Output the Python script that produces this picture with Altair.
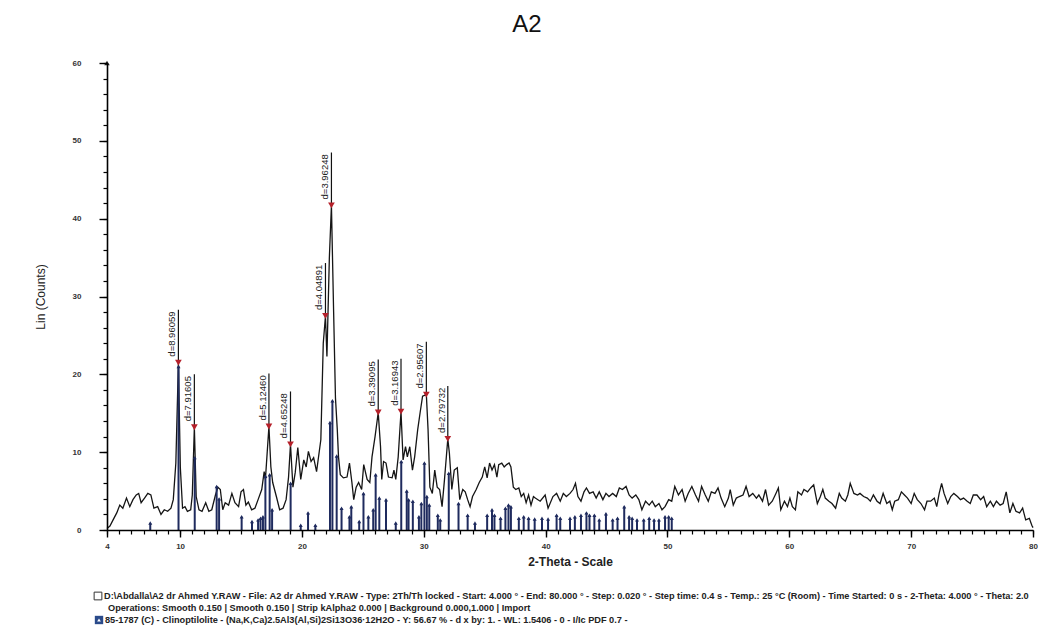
import altair as alt
import pandas as pd

# ---------------- data ----------------
two_theta = [4.0, 4.24, 4.5, 4.8, 5.05, 5.3, 5.6, 5.87, 6.13, 6.4, 6.6, 6.8, 7.08, 7.35, 7.6, 7.85,
             8.16, 8.43, 8.7, 8.98, 9.25, 9.44, 9.65, 9.86, 10.02, 10.2, 10.4, 10.6, 10.87, 11.0,
             11.17, 11.32, 11.55, 11.8, 12.1, 12.36, 12.6, 12.9, 13.1, 13.3, 13.5, 13.7, 13.98,
             14.25, 14.5, 14.8, 15.0, 15.2, 15.4, 15.6, 15.87, 16.14, 16.4, 16.7, 16.9, 17.0, 17.29,
             17.45, 17.6, 17.9, 18.17, 18.45, 18.7, 18.9, 19.06, 19.26, 19.45, 19.66, 19.9, 20.15,
             20.35, 20.53, 20.75, 20.96, 21.2, 21.55, 21.75, 21.93, 22.05, 22.25, 22.42, 22.6, 22.75,
             22.9, 23.0, 23.15, 23.4, 23.7, 23.9, 24.1, 24.25, 24.45, 24.65, 24.9, 25.07, 25.35,
             25.57, 25.75, 26.0, 26.26, 26.45, 26.55, 26.7, 26.9, 27.1, 27.4, 27.55, 27.7, 27.9,
             28.13, 28.3, 28.5, 28.65, 28.85, 29.07, 29.25, 29.5, 29.7, 29.9, 30.21, 30.35, 30.5,
             30.7, 30.9, 31.1, 31.3, 31.5, 31.7, 31.97, 32.1, 32.3, 32.5, 32.75, 32.95, 33.2, 33.4,
             33.6, 33.8, 34.0, 34.3, 34.55, 34.8, 35.0, 35.2, 35.4, 35.6, 35.8, 36.0, 36.15, 36.4,
             36.6, 36.8, 37.0, 37.15, 37.35, 37.55, 37.8, 38.0, 38.2, 38.4, 38.6, 38.8, 39.0, 39.15,
             39.55, 39.96, 40.2, 40.6, 40.9, 41.2, 41.45, 41.7, 42.0, 42.25, 42.45, 42.65, 42.9,
             43.15, 43.35, 43.6, 43.9, 44.15, 44.4, 44.7, 44.95, 45.2, 45.5, 45.8, 46.05, 46.3,
             46.6, 46.85, 47.1, 47.4, 47.65, 47.9, 48.2, 48.5, 48.75, 49.0, 49.3, 49.55, 49.8, 50.1,
             50.35, 50.6, 50.9, 51.2, 51.45, 51.7, 52.0, 52.3, 52.55, 52.8, 53.1, 53.35, 53.6, 53.9,
             54.15, 54.4, 54.7, 55.0, 55.15, 55.4, 55.65, 55.9, 56.2, 56.45, 56.7, 57.0, 57.3, 57.5,
             57.8, 58.05, 58.3, 58.6, 58.9, 59.1, 59.3, 59.6, 59.85, 60.05, 60.25, 60.5, 60.7, 61.0,
             61.2, 61.5, 61.75, 62.0, 62.3, 62.55, 62.75, 62.95, 63.25, 63.5, 63.8, 64.1, 64.3, 64.6,
             64.8, 65.0, 65.3, 65.6, 65.8, 66.1, 66.4, 66.65, 66.9, 67.2, 67.45, 67.7, 68.0, 68.25,
             68.45, 68.65, 68.95, 69.2, 69.45, 69.7, 70.0, 70.25, 70.5, 70.8, 71.1, 71.3, 71.6, 71.9,
             72.1, 72.3, 72.5, 72.7, 73.0, 73.25, 73.5, 73.8, 74.05, 74.3, 74.6, 74.85, 75.1, 75.4,
             75.7, 75.95, 76.2, 76.5, 76.75, 77.0, 77.3, 77.55, 77.8, 78.1, 78.35, 78.6, 78.9, 79.15,
             79.4, 79.7, 79.9, 80.0]
counts = [0.2, 0.5, 1.3, 2.2, 3.2, 2.8, 4.1, 3.0, 3.9, 4.5, 4.7, 3.5, 4.1, 4.7, 4.5, 2.8,
          3.0, 2.0, 2.6, 2.4, 2.8, 3.9, 8.6, 21.5, 8.0, 2.8, 3.0, 2.4, 2.6, 4.5,
          13.2, 4.3, 2.6, 2.4, 3.5, 2.4, 2.6, 4.5, 5.5, 5.2, 2.6, 3.5, 3.2,
          4.7, 3.5, 3.0, 4.9, 5.2, 3.2, 3.6, 2.6, 2.8, 3.9, 5.2, 7.5, 6.5, 13.3,
          8.1, 6.1, 4.3, 2.6, 2.8, 3.9, 6.8, 11.0, 5.5, 7.4, 10.6, 6.5, 9.0,
          8.1, 10.1, 8.8, 9.3, 7.5, 11.6, 24.0, 27.5, 22.3, 35.0, 41.7, 28.0, 17.0,
          12.9, 9.4, 7.1, 6.7, 6.8, 8.6, 6.1, 3.9, 5.5, 6.1, 5.2, 8.4, 6.5,
          6.1, 9.4, 12.0, 15.1, 10.7, 6.5, 8.8, 8.6, 6.8, 6.7, 7.7, 6.5, 9.4,
          15.2, 9.0, 10.7, 9.4, 10.7, 7.7, 9.4, 12.9, 15.1, 17.2, 17.4, 12.9, 5.5,
          4.7, 7.7, 5.5, 5.2, 3.0, 6.5, 11.7, 9.9, 5.2, 7.7, 8.0, 3.9, 5.2, 4.9,
          3.9, 3.0, 4.3, 5.2, 6.1, 6.8, 8.1, 6.7, 8.6, 7.7, 8.4, 6.8, 8.4, 8.6,
          8.1, 8.4, 8.6, 8.1, 5.5, 5.2, 5.4, 4.3, 4.7, 3.5, 4.5, 3.2, 4.3, 4.1,
          3.7, 4.5, 2.8, 4.3, 4.7, 3.7, 4.7, 4.3, 4.7, 5.2, 6.0, 4.3, 3.7,
          4.9, 5.4, 4.7, 4.9, 4.1, 4.9, 3.9, 4.7, 4.3, 4.7, 4.3, 5.4, 5.2,
          5.6, 4.5, 4.1, 4.5, 3.9, 2.6, 3.7, 3.2, 3.7, 3.0, 3.4, 2.6, 3.0, 3.9,
          3.7, 5.6, 4.5, 5.2, 3.7, 4.7, 5.6, 4.5, 3.7, 5.6, 4.5, 3.7, 4.9, 4.7,
          5.4, 4.1, 3.0, 4.1, 5.2, 3.2, 4.1, 4.3, 4.5, 5.6, 4.3, 4.7, 4.1, 4.5,
          3.7, 5.2, 3.2, 3.7, 4.7, 5.4, 2.6, 3.7, 3.0, 4.1, 3.0, 2.6, 4.9, 4.5,
          5.2, 4.9, 5.4, 5.8, 3.4, 4.3, 5.2, 4.1, 3.7, 3.4, 2.8, 4.7, 4.1, 3.7,
          4.5, 6.0, 4.7, 4.5, 4.7, 4.3, 4.1, 3.7, 4.5, 3.7, 3.4, 4.7, 3.4, 3.7,
          2.6, 3.7, 3.9, 4.9, 4.5, 4.1, 3.4, 4.7, 3.9, 3.4, 2.6, 3.7, 3.7, 4.1,
          3.0, 4.7, 6.0, 4.7, 3.4, 4.3, 4.7, 4.3, 3.9, 4.1, 3.7, 3.4, 4.5, 4.5,
          3.9, 4.3, 3.0, 3.7, 3.0, 3.7, 3.2, 3.4, 4.9, 2.2, 3.4, 2.4, 2.2, 2.8,
          1.3, 1.5, 0.6, 0.3]

# reference pattern 85-1787 Clinoptilolite (stick positions and heights)
stick_pos = [7.55, 9.87, 11.2, 13.0, 13.2, 15.05, 15.9, 16.4, 16.6, 16.8, 17.0, 17.35, 17.55,
             19.07, 19.9, 20.5, 21.1, 22.3, 22.5, 22.85, 23.25, 23.9, 24.05, 24.7, 25.05, 25.45,
             25.85, 26.05, 26.35, 26.9, 27.7, 28.15, 28.6, 28.75, 29.1, 29.6, 29.8, 30.05, 30.25,
             30.45, 31.15, 31.35, 32.05, 32.85, 33.6, 34.2, 35.2, 35.6, 35.8, 36.3, 36.7, 36.95,
             37.15, 37.8, 38.2, 38.6, 39.1, 39.7, 40.2, 40.9, 41.2, 42.0, 42.4, 42.9, 43.35, 43.6,
             44.0, 44.4, 44.95, 45.5, 45.9, 46.45, 46.85, 47.1, 47.5, 48.05, 48.5, 48.9, 49.3,
             49.8, 50.1, 50.35]
stick_h = [0.9, 21.0, 9.3, 5.6, 4.0, 1.7, 1.1, 1.3, 1.5, 1.7, 6.9, 7.1, 2.6,
           6.0, 0.6, 2.2, 0.6, 13.8, 16.6, 9.5, 2.8, 1.7, 3.0, 1.1, 4.7, 1.7,
           2.6, 7.1, 4.1, 3.9, 0.9, 8.8, 5.0, 3.9, 3.7, 1.7, 3.4, 8.6, 4.3,
           3.2, 1.9, 1.3, 7.3, 3.4, 1.9, 0.9, 1.9, 2.6, 1.9, 1.5, 2.8, 3.2,
           3.0, 1.5, 1.7, 1.5, 1.4, 1.5, 1.4, 1.9, 1.5, 1.5, 1.7, 1.9, 2.2, 1.9,
           1.9, 1.3, 2.1, 1.3, 1.5, 3.0, 1.7, 1.5, 1.3, 1.3, 1.5, 1.3, 1.3,
           1.7, 1.7, 1.5]

# labelled peaks
peak_labels = ["d=8.96059", "d=7.91605", "d=5.12460", "d=4.65248", "d=4.04891",
               "d=3.96248", "d=3.39095", "d=3.16943", "d=2.95607", "d=2.79732"]
peak_2theta = [9.86, 11.17, 17.29, 19.06, 21.93, 22.42, 26.26, 28.13, 30.21, 31.97]
peak_counts = [21.5, 13.2, 13.3, 11.0, 27.5, 41.7, 15.1, 15.2, 17.4, 11.7]
peak_tops = [28.3, 20.0, 20.1, 17.8, 34.3, 48.5, 21.9, 22.0, 24.2, 18.5]

x_major = [4, 10, 20, 30, 40, 50, 60, 70, 80]
x_minor = list(range(4, 81))
y_major = [0, 10, 20, 30, 40, 50, 60]
y_minor = list(range(0, 61, 2))

chart_title = ["A2"]
legend_line1 = ["D:\\Abdalla\\A2 dr Ahmed Y.RAW - File: A2 dr Ahmed Y.RAW - Type: 2Th/Th locked - "
                "Start: 4.000 \u00b0 - End: 80.000 \u00b0 - Step: 0.020 \u00b0 - Step time: 0.4 s - "
                "Temp.: 25 \u00b0C (Room) - Time Started: 0 s - 2-Theta: 4.000 \u00b0 - Theta: 2.0"]
legend_line2 = ["Operations: Smooth 0.150 | Smooth 0.150 | Strip kAlpha2 0.000 | "
                "Background 0.000,1.000 | Import"]
legend_line3 = ["85-1787 (C) - Clinoptilolite - (Na,K,Ca)2.5Al3(Al,Si)2Si13O36\u00b712H2O - "
                "Y: 56.67 % - d x by: 1. - WL: 1.5406 - 0 - I/Ic PDF 0.7 -"]

# ---------------- chart ----------------
FONT = "Liberation Sans"
NAVY = "#1f2b5e"
RED = "#b5202a"
INK = "black"

curve_df = pd.DataFrame({"tth": two_theta, "cnt": counts})
stick_df = pd.DataFrame({"tth": stick_pos, "h": stick_h})
peak_df = pd.DataFrame({"tth": peak_2theta, "cnt": peak_counts, "top": peak_tops, "lab": peak_labels})

xs = alt.Scale(domain=[4, 80], nice=False, zero=False)
ys = alt.Scale(domain=[0, 60], nice=False)

x_axis_major = alt.Axis(
    orient="bottom", values=x_major, format="d", grid=False, zindex=1,
    labelFlush=False,
    tickSize=7, tickColor=INK, domainColor=INK, tickWidth=1.4, domainWidth=1.6,
    labelFont=FONT, labelFontSize=8, labelFontWeight="bold", labelColor="#333",
    labelPadding=5,
    title="2-Theta - Scale", titleFont=FONT, titleFontSize=12, titleFontWeight="bold",
    titleColor="#222", titlePadding=6,
)
y_axis_major = alt.Axis(
    orient="left", values=y_major, format="d", grid=False, zindex=1,
    labelFlush=False,
    tickSize=8, tickColor=INK, domainColor=INK, tickWidth=1.4, domainWidth=1.6,
    labelFont=FONT, labelFontSize=8, labelFontWeight="bold", labelColor="#333",
    labelPadding=18,
    title="Lin (Counts)", titleFont=FONT, titleFontSize=12, titleFontWeight="normal",
    titleColor="#222", titlePadding=25,
)
x_axis_minor = alt.Axis(orient="bottom", values=x_minor, labels=False, domain=False, grid=False,
                        zindex=1, tickSize=4, tickColor=INK, tickWidth=1.2, title=None)
y_axis_minor = alt.Axis(orient="left", values=y_minor, labels=False, domain=False, grid=False,
                        zindex=1, tickSize=4, tickColor=INK, tickWidth=1.2, title=None)

X = lambda f: alt.X(f, scale=xs, axis=None)
Y = lambda f: alt.Y(f, scale=ys, axis=None)

curve = alt.Chart(curve_df).mark_line(color="#151515", strokeWidth=1.3).encode(
    x=alt.X("tth:Q", scale=xs, axis=x_axis_major),
    y=alt.Y("cnt:Q", scale=ys, axis=y_axis_major),
)

sticks = alt.Chart(stick_df).mark_rule(color=NAVY, strokeWidth=2).encode(
    x=alt.X("tth:Q", scale=xs, axis=x_axis_minor),
    y=alt.Y("h:Q", scale=ys, axis=y_axis_minor),
    y2=alt.datum(0),
)
caps = alt.Chart(stick_df).mark_point(shape="triangle-up", filled=True, size=16, color=NAVY, opacity=1).encode(
    x=X("tth:Q"), y=Y("h:Q")
)

peak_rules = alt.Chart(peak_df).mark_rule(color="#111", strokeWidth=1.2).encode(
    x=X("tth:Q"), y=Y("cnt:Q"), y2="top:Q"
)
peak_marks = alt.Chart(peak_df).mark_point(shape="triangle-down", filled=True, size=45, color=RED, opacity=1).encode(
    x=X("tth:Q"), y=Y("cnt:Q")
)
peak_text = alt.Chart(peak_df).mark_text(
    angle=270, align="left", baseline="bottom", dx=6, dy=-1,
    font=FONT, fontSize=9.5, color="#222"
).encode(x=X("tth:Q"), y=Y("cnt:Q"), text="lab:N")

y_arrow = alt.Chart(pd.DataFrame({"a": [0]})).mark_point(
    shape="triangle-up", filled=True, size=30, color="#222", opacity=1
).encode(x=alt.X(datum=4, scale=xs, axis=None), y=alt.Y(datum=60, scale=ys, axis=None))

title_txt = alt.Chart(pd.DataFrame({"t": chart_title})).mark_text(
    font=FONT, fontSize=24, color="#111", align="center", baseline="middle"
).encode(text="t:N", x=alt.value(420), y=alt.value(-38))

def legend_text(lines, xpos, ypos):
    return alt.Chart(pd.DataFrame({"t": lines})).mark_text(
        font=FONT, fontSize=9.2, fontWeight="bold", color="#222", align="left", baseline="middle"
    ).encode(text="t:N", x=alt.value(xpos), y=alt.value(ypos))

leg1 = legend_text(legend_line1, -3, 533)
leg2 = legend_text(legend_line2, 1, 545)
leg3 = legend_text(legend_line3, -2, 557)

icon1 = alt.Chart(pd.DataFrame({"a": [0]})).mark_point(
    shape="square", filled=False, size=60, color="#333", strokeWidth=1, opacity=1
).encode(x=alt.value(-9), y=alt.value(533))
icon3 = alt.Chart(pd.DataFrame({"a": [0]})).mark_point(
    shape="square", filled=True, size=70, color="#2a4a8a", opacity=1
).encode(x=alt.value(-8), y=alt.value(557))
icon3b = alt.Chart(pd.DataFrame({"a": [0]})).mark_point(
    shape="triangle-up", filled=True, size=14, color="#ffffff", opacity=1
).encode(x=alt.value(-8), y=alt.value(557))

chart = alt.layer(
    curve, sticks, caps, peak_rules, peak_marks, peak_text, y_arrow,
    title_txt, leg1, leg2, leg3, icon1, icon3, icon3b
).resolve_axis(x="independent", y="independent").properties(
    width=926, height=467,
    autosize=alt.AutoSizeParams(type="none"),
    padding={"left": 99, "top": 55, "right": 5, "bottom": 96},
    background="white",
).configure_view(stroke=None)

chart.save("out.html", embed_options={"renderer": "svg", "actions": False})
